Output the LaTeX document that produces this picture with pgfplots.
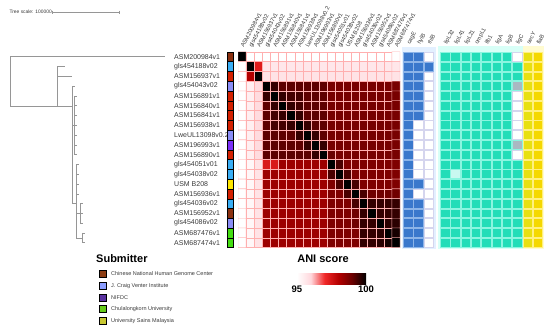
\documentclass[border=0pt]{standalone}
\usepackage{pgfplots}
\usepackage{pgfplotstable}
\pgfplotsset{compat=1.18}
\usepackage{fontspec}
\setmainfont{Liberation Sans}
\usetikzlibrary{calc}

\definecolor{cBrown}{RGB}{139,48,16}
\definecolor{cRed}{RGB}{212,32,0}
\definecolor{cSky}{RGB}{58,174,245}
\definecolor{cPeri}{RGB}{138,140,245}
\definecolor{cViolet}{RGB}{123,47,247}
\definecolor{cYel}{RGB}{255,230,0}
\definecolor{cGreen}{RGB}{68,221,17}
\definecolor{lgBrown}{RGB}{140,60,18}
\definecolor{lgPeri}{RGB}{140,158,255}
\definecolor{lgPurple}{RGB}{90,50,160}
\definecolor{lgGreen}{RGB}{102,204,26}
\definecolor{lgOlive}{RGB}{200,200,50}
\definecolor{gBlue}{RGB}{58,120,204}
\definecolor{gBlueL}{RGB}{140,180,232}
\definecolor{gTeal}{RGB}{34,221,184}
\definecolor{gTealL}{RGB}{138,245,224}
\definecolor{gTealP}{RGB}{200,248,240}
\definecolor{gGray}{RGB}{169,185,194}
\definecolor{gYel1}{RGB}{232,224,16}
\definecolor{gYel2}{RGB}{245,216,0}
\definecolor{gYelL}{RGB}{255,240,128}
\definecolor{gAbs}{RGB}{213,213,238}
\definecolor{bgBlue}{RGB}{227,240,255}
\definecolor{bgTeal}{RGB}{216,255,247}
\definecolor{bgYel}{RGB}{255,251,208}
\definecolor{gridPink}{RGB}{255,175,175}
\definecolor{labgray}{RGB}{58,58,58}
\definecolor{treegray}{RGB}{150,150,150}

\pgfplotstableread{
y
56.7
66.5
76.3
86.1
95.9
105.7
115.4
125.2
135.0
144.8
154.6
164.4
174.2
184.0
193.8
203.6
213.3
223.1
232.9
242.7
}\rowsTable

\pgfplotsset{
  cell/.style 2 args={only marks, mark=square*, mark size=4.45pt,
    mark options={xscale=1.06, line width=0.7pt, fill=#1, draw=#2}},
  strip/.style={only marks, mark=square*, mark size=4.9pt,
    mark options={xscale=0.66, draw=none, fill=#1}},
  lgsq/.style={only marks, mark=square*, mark size=3.6pt,
    mark options={draw=none, fill=#1}},
}

\begin{document}
\begin{tikzpicture}
\useasboundingbox (0,0) rectangle (550pt,-330pt);

\begin{axis}[at={(275pt,-165pt)}, anchor=center, scale only axis,
  width=550pt, height=330pt, xmin=0, xmax=550, ymin=0, ymax=330,
  y dir=reverse, hide axis, clip=false]

% group backgrounds
\addplot[fill=bgBlue, draw=none] coordinates {(401.5,47) (435.5,47) (435.5,249) (401.5,249)} -- cycle;
\addplot[fill=bgTeal, draw=none] coordinates {(438,46) (523,46) (523,249) (438,249)} -- cycle;
\addplot[fill=bgYel, draw=none] coordinates {(522.5,46) (544,46) (544,249) (522.5,249)} -- cycle;

% tree
\addplot[color=treegray, line width=0.45pt, unbounded coords=jump] coordinates {
(10,56.7) (10,106) (nan,nan)
(10,56.7) (165,56.7) (nan,nan)
(10,106) (72,106) (nan,nan)
(57,66.5) (57,106) (nan,nan)
(57,66.5) (65,66.5) (nan,nan)
(57,76.3) (72,76.3) (nan,nan)
(72,86.1) (72,203.6) (nan,nan)
(72,86.1) (75,86.1) (nan,nan)
(72,125.2) (74,125.2) (nan,nan)
(74,95.9) (74,154.6) (nan,nan)
(74,95.9) (77,95.9) (nan,nan)
(74,105.7) (77,105.7) (nan,nan)
(74,115.4) (77,115.4) (nan,nan)
(74,125.2) (77,125.2) (nan,nan)
(74,135.0) (77,135.0) (nan,nan)
(74,144.8) (77,144.8) (nan,nan)
(74,154.6) (77,154.6) (nan,nan)
(72,203.6) (76,203.6) (nan,nan)
(76,164.4) (76,237.8) (nan,nan)
(76,164.4) (79,164.4) (nan,nan)
(76,174.2) (79,174.2) (nan,nan)
(76,184.0) (79,184.0) (nan,nan)
(76,193.8) (79,193.8) (nan,nan)
(76,213.3) (80,213.3) (nan,nan)
(80,203.6) (80,223.1) (nan,nan)
(80,203.6) (83,203.6) (nan,nan)
(80,213.3) (83,213.3) (nan,nan)
(80,223.1) (83,223.1) (nan,nan)
(76,237.8) (82,237.8) (nan,nan)
(82,232.9) (82,242.7) (nan,nan)
(82,232.9) (85,232.9) (nan,nan)
(82,242.7) (85,242.7)
};

% tree scale
\addplot[color=treegray, line width=0.45pt, unbounded coords=jump] coordinates {
(52,12) (119,12) (nan,nan) (52,10.5) (52,13.5) (nan,nan) (119,10.5) (119,13.5)};
\node[anchor=west, font=\fontsize{4.9}{5}\selectfont, text=labgray] at (axis cs:6,12) {Tree scale: 100000};

% row labels
\begin{scope}[every node/.style={anchor=west, font=\fontsize{7}{8}\selectfont, text=labgray, inner sep=0pt}]
\node at (axis cs:174,56.7) {ASM200984v1};
\node at (axis cs:174,66.5) {gls454188v02};
\node at (axis cs:174,76.3) {ASM156937v1};
\node at (axis cs:174,86.1) {gls454043v02};
\node at (axis cs:174,95.9) {ASM156891v1};
\node at (axis cs:174,105.7) {ASM156840v1};
\node at (axis cs:174,115.4) {ASM156841v1};
\node at (axis cs:174,125.2) {ASM156938v1};
\node at (axis cs:174,135.0) {LweUL13098v0.2};
\node at (axis cs:174,144.8) {ASM196993v1};
\node at (axis cs:174,154.6) {ASM156890v1};
\node at (axis cs:174,164.4) {gls454051v01};
\node at (axis cs:174,174.2) {gls454038v02};
\node at (axis cs:174,184.0) {USM B208};
\node at (axis cs:174,193.8) {ASM156936v1};
\node at (axis cs:174,203.6) {gls454036v02};
\node at (axis cs:174,213.3) {ASM156952v1};
\node at (axis cs:174,223.1) {gls454086v02};
\node at (axis cs:174,232.9) {ASM687476v1};
\node at (axis cs:174,242.7) {ASM687474v1};
\end{scope}

% column labels
\begin{scope}[every node/.style={anchor=base west, rotate=62, font=\fontsize{5.8}{6}\selectfont, text=labgray, inner sep=0.5pt}]
\node at (axis cs:243.6,48.5) {ASM200984v1};
\node at (axis cs:251.7,48.5) {gls454188v02};
\node at (axis cs:259.8,48.5) {ASM156937v1};
\node at (axis cs:267.9,48.5) {gls454043v02};
\node at (axis cs:276.0,48.5) {ASM156891v1};
\node at (axis cs:284.1,48.5) {ASM156840v1};
\node at (axis cs:292.2,48.5) {ASM156841v1};
\node at (axis cs:300.3,48.5) {ASM156938v1};
\node at (axis cs:308.4,48.5) {LweUL13098v0.2};
\node at (axis cs:316.5,48.5) {ASM196993v1};
\node at (axis cs:324.6,48.5) {ASM156890v1};
\node at (axis cs:332.7,48.5) {gls454051v01};
\node at (axis cs:340.8,48.5) {gls454038v02};
\node at (axis cs:348.9,48.5) {USM B208};
\node at (axis cs:357.0,48.5) {ASM156936v1};
\node at (axis cs:365.1,48.5) {gls454036v02};
\node at (axis cs:373.2,48.5) {ASM156952v1};
\node at (axis cs:381.3,48.5) {gls454086v02};
\node at (axis cs:389.4,48.5) {ASM687476v1};
\node at (axis cs:397.5,48.5) {ASM687474v1};
% gene labels
\node at (axis cs:409.7,45.5) {cagE};
\node at (axis cs:420.0,45.5) {hylB};
\node at (axis cs:430.3,45.5) {rhlB};
\node at (axis cs:446.7,45.5) {lipL32};
\node at (axis cs:457.0,45.5) {lipL41};
\node at (axis cs:467.3,45.5) {lipL21};
\node at (axis cs:477.6,45.5) {ompL1};
\node at (axis cs:487.9,45.5) {lfb1};
\node at (axis cs:498.2,45.5) {ligA};
\node at (axis cs:508.5,45.5) {ligB};
\node at (axis cs:518.8,45.5) {ligC};
\node at (axis cs:529.5,45.5) {secY};
\node at (axis cs:539.5,45.5) {flaB};
\end{scope}

% submitter strip
\addplot[strip=cBrown] coordinates {(230,56.7) (230,213.3)};
\addplot[strip=cSky] coordinates {(230,66.5) (230,164.4) (230,174.2) (230,203.6)};
\addplot[strip=cRed] coordinates {(230,76.3) (230,95.9) (230,105.7) (230,115.4) (230,125.2) (230,154.6) (230,193.8)};
\addplot[strip=cPeri] coordinates {(230,86.1) (230,135.0) (230,223.1)};
\addplot[strip=cViolet] coordinates {(230,144.8)};
\addplot[strip=cYel] coordinates {(230,184.0)};
\addplot[strip=cGreen] coordinates {(230,232.9) (230,242.7)};

% gene matrix: blue group
\addplot[cell={gBlue}{gBlueL}] table[x expr=408.2, y=y] {\rowsTable};
\addplot[cell={gBlue}{gBlueL}] coordinates {(418.5,56.7) (418.5,66.5) (418.5,76.3) (418.5,86.1) (418.5,95.9) (418.5,105.7) (418.5,115.4) (418.5,184.0) (418.5,203.6) (418.5,213.3) (418.5,223.1) (418.5,232.9) (418.5,242.7) (428.8,66.5)};
\addplot[cell={white}{gAbs}] coordinates {(418.5,125.2) (418.5,135.0) (418.5,144.8) (418.5,154.6) (418.5,164.4) (418.5,174.2) (418.5,193.8)
(428.8,56.7) (428.8,76.3) (428.8,86.1) (428.8,95.9) (428.8,105.7) (428.8,115.4) (428.8,125.2) (428.8,135.0) (428.8,144.8) (428.8,154.6) (428.8,164.4) (428.8,174.2) (428.8,184.0) (428.8,193.8) (428.8,203.6) (428.8,213.3) (428.8,223.1) (428.8,232.9) (428.8,242.7)};
% teal group
\addplot[cell={gTeal}{gTealL}] table[x expr=445.2, y=y] {\rowsTable};
\addplot[cell={gTeal}{gTealL}] coordinates {(455.5,56.7) (455.5,66.5) (455.5,76.3) (455.5,86.1) (455.5,95.9) (455.5,105.7) (455.5,115.4) (455.5,125.2) (455.5,135.0) (455.5,144.8) (455.5,154.6) (455.5,164.4) (455.5,184.0) (455.5,193.8) (455.5,203.6) (455.5,213.3) (455.5,223.1) (455.5,232.9) (455.5,242.7)};
\addplot[cell={gTealP}{gTealL}] coordinates {(455.5,174.2)};
\addplot[cell={gTeal}{gTealL}] table[x expr=465.8, y=y] {\rowsTable};
\addplot[cell={gTeal}{gTealL}] table[x expr=476.1, y=y] {\rowsTable};
\addplot[cell={gTeal}{gTealL}] table[x expr=486.4, y=y] {\rowsTable};
\addplot[cell={gTeal}{gTealL}] table[x expr=496.7, y=y] {\rowsTable};
\addplot[cell={gTeal}{gTealL}] table[x expr=507.0, y=y] {\rowsTable};
\addplot[cell={gTeal}{gTealL}] coordinates {(517.3,66.5) (517.3,76.3) (517.3,164.4) (517.3,174.2) (517.3,184.0) (517.3,193.8) (517.3,203.6) (517.3,213.3) (517.3,223.1) (517.3,232.9) (517.3,242.7)};
\addplot[cell={gGray}{gTealL}] coordinates {(517.3,86.1) (517.3,144.8)};
\addplot[cell={white}{gAbs}] coordinates {(517.3,56.7) (517.3,95.9) (517.3,105.7) (517.3,115.4) (517.3,125.2) (517.3,135.0) (517.3,154.6)};
% yellow group
\addplot[cell={gYel1}{gYelL}] table[x expr=528.0, y=y] {\rowsTable};
\addplot[cell={gYel2}{gYelL}] table[x expr=538.0, y=y] {\rowsTable};

% submitter legend
\node[anchor=west, font=\bfseries\fontsize{11}{12}\selectfont, inner sep=0pt] at (axis cs:96,258.5) {Submitter};
\addplot[lgsq=lgBrown] coordinates {(103,274)};
\addplot[lgsq=lgPeri] coordinates {(103,285.7)};
\addplot[lgsq=lgPurple] coordinates {(103,297.3)};
\addplot[lgsq=lgGreen] coordinates {(103,309)};
\addplot[lgsq=lgOlive] coordinates {(103,321)};
\begin{scope}[every node/.style={anchor=west, font=\fontsize{5.5}{6}\selectfont, text=labgray, inner sep=0pt}]
\node at (axis cs:111,274) {Chinese National Human Genome Center};
\node at (axis cs:111,285.7) {J. Craig Venter Institute};
\node at (axis cs:111,297.3) {NIFDC};
\node at (axis cs:111,309) {Chulalongkorn University};
\node at (axis cs:111,321) {University Sains Malaysia};
\end{scope}
\node[font=\bfseries\fontsize{11}{12}\selectfont, inner sep=0pt] at (axis cs:323,258.5) {ANI score};
\end{axis}

% heatmap
\begin{axis}[at={(319pt,-149.7pt)}, anchor=center, scale only axis,
  width=162pt, height=195.8pt, xmin=0.5, xmax=20.5, ymin=0.5, ymax=20.5,
  y dir=reverse, hide axis,
  colormap={ani}{rgb255(0cm)=(255,255,255); rgb255(1cm)=(255,215,220); rgb255(2cm)=(240,40,40); rgb255(3cm)=(180,0,0); rgb255(4cm)=(105,0,0); rgb255(5cm)=(0,0,0)},
  point meta min=95, point meta max=100,
  colorbar horizontal,
  colorbar style={at={($(parent axis.center)+(12.5pt,-120.8pt)$)}, anchor=center,
    scale only axis, width=69pt, height=11pt,
    xtick={95,100}, xticklabels={\textbf{95},\textbf{100}},
    xticklabel style={font=\fontsize{9.5}{10}\selectfont, inner sep=1pt},
    major tick length=0pt, axis line style={draw=none}}]
\addplot[matrix plot*, mesh/cols=20, point meta=explicit, draw=gridPink, line width=0.35pt] coordinates {
(1,1)[100] (2,1)[95] (3,1)[95] (4,1)[95] (5,1)[95] (6,1)[95] (7,1)[95] (8,1)[95] (9,1)[95] (10,1)[95] (11,1)[95] (12,1)[95] (13,1)[95] (14,1)[95] (15,1)[95] (16,1)[95] (17,1)[95] (18,1)[95] (19,1)[95] (20,1)[95]
(1,2)[95] (2,2)[100] (3,2)[97.3] (4,2)[95.6] (5,2)[95.6] (6,2)[95.6] (7,2)[95.6] (8,2)[95.6] (9,2)[95.6] (10,2)[95.6] (11,2)[95.6] (12,2)[95.6] (13,2)[95.6] (14,2)[95.6] (15,2)[95.6] (16,2)[95.6] (17,2)[95.6] (18,2)[95.6] (19,2)[95.6] (20,2)[95.6]
(1,3)[95] (2,3)[98] (3,3)[100] (4,3)[95.7] (5,3)[95.7] (6,3)[95.7] (7,3)[95.7] (8,3)[95.7] (9,3)[95.7] (10,3)[95.7] (11,3)[95.7] (12,3)[95.7] (13,3)[95.7] (14,3)[95.7] (15,3)[95.7] (16,3)[95.7] (17,3)[95.7] (18,3)[95.7] (19,3)[95.7] (20,3)[95.7]
(1,4)[95] (2,4)[95.4] (3,4)[95.9] (4,4)[100] (5,4)[99.5] (6,4)[99.1] (7,4)[99.1] (8,4)[99.1] (9,4)[99.1] (10,4)[99.1] (11,4)[99.1] (12,4)[98.8] (13,4)[98.8] (14,4)[98.8] (15,4)[98.8] (16,4)[98.8] (17,4)[98.8] (18,4)[98.8] (19,4)[98.8] (20,4)[98.8]
(1,5)[95] (2,5)[95.4] (3,5)[95.9] (4,5)[99.5] (5,5)[100] (6,5)[99.5] (7,5)[99.35] (8,5)[99.35] (9,5)[99.1] (10,5)[99.1] (11,5)[99.1] (12,5)[98.8] (13,5)[98.8] (14,5)[98.8] (15,5)[98.8] (16,5)[98.8] (17,5)[98.8] (18,5)[98.8] (19,5)[98.8] (20,5)[98.8]
(1,6)[95] (2,6)[95.4] (3,6)[95.9] (4,6)[99.1] (5,6)[99.5] (6,6)[100] (7,6)[99.5] (8,6)[99.35] (9,6)[99.1] (10,6)[99.1] (11,6)[99.1] (12,6)[98.8] (13,6)[98.8] (14,6)[98.8] (15,6)[98.8] (16,6)[98.8] (17,6)[98.8] (18,6)[98.8] (19,6)[98.8] (20,6)[98.8]
(1,7)[95] (2,7)[95.4] (3,7)[95.9] (4,7)[99.1] (5,7)[99.35] (6,7)[99.5] (7,7)[100] (8,7)[99.5] (9,7)[99.1] (10,7)[99.1] (11,7)[99.1] (12,7)[98.8] (13,7)[98.8] (14,7)[98.8] (15,7)[98.8] (16,7)[98.8] (17,7)[98.8] (18,7)[98.8] (19,7)[98.8] (20,7)[98.8]
(1,8)[95] (2,8)[95.4] (3,8)[95.9] (4,8)[99.1] (5,8)[99.35] (6,8)[99.35] (7,8)[99.5] (8,8)[100] (9,8)[99.5] (10,8)[99.1] (11,8)[99.1] (12,8)[98.8] (13,8)[98.8] (14,8)[98.8] (15,8)[98.8] (16,8)[98.8] (17,8)[98.8] (18,8)[98.8] (19,8)[98.8] (20,8)[98.8]
(1,9)[95] (2,9)[95.4] (3,9)[95.9] (4,9)[99.1] (5,9)[99.1] (6,9)[99.1] (7,9)[99.1] (8,9)[99.5] (9,9)[100] (10,9)[99.5] (11,9)[99.1] (12,9)[98.8] (13,9)[98.8] (14,9)[98.8] (15,9)[98.8] (16,9)[98.8] (17,9)[98.8] (18,9)[98.8] (19,9)[98.8] (20,9)[98.8]
(1,10)[95] (2,10)[95.4] (3,10)[95.9] (4,10)[99.1] (5,10)[99.1] (6,10)[99.1] (7,10)[99.1] (8,10)[99.1] (9,10)[99.5] (10,10)[100] (11,10)[99.5] (12,10)[98.8] (13,10)[98.8] (14,10)[98.8] (15,10)[98.8] (16,10)[98.8] (17,10)[98.8] (18,10)[98.8] (19,10)[98.8] (20,10)[98.8]
(1,11)[95] (2,11)[95.4] (3,11)[95.9] (4,11)[99.1] (5,11)[99.1] (6,11)[99.1] (7,11)[99.1] (8,11)[99.1] (9,11)[99.1] (10,11)[99.5] (11,11)[100] (12,11)[99.0] (13,11)[98.8] (14,11)[98.8] (15,11)[98.8] (16,11)[98.8] (17,11)[98.8] (18,11)[98.8] (19,11)[98.8] (20,11)[98.8]
(1,12)[95] (2,12)[95.2] (3,12)[95.7] (4,12)[97.4] (5,12)[97.4] (6,12)[98.3] (7,12)[98.3] (8,12)[98.3] (9,12)[98.3] (10,12)[98.3] (11,12)[98.3] (12,12)[100] (13,12)[99.3] (14,12)[98.7] (15,12)[98.7] (16,12)[98.7] (17,12)[98.7] (18,12)[98.7] (19,12)[98.7] (20,12)[98.7]
(1,13)[95] (2,13)[95.2] (3,13)[95.7] (4,13)[98.3] (5,13)[98.3] (6,13)[98.3] (7,13)[98.3] (8,13)[98.3] (9,13)[98.3] (10,13)[98.3] (11,13)[98.3] (12,13)[99.3] (13,13)[100] (14,13)[99.3] (15,13)[98.7] (16,13)[98.7] (17,13)[98.7] (18,13)[98.7] (19,13)[98.7] (20,13)[98.7]
(1,14)[95] (2,14)[95.2] (3,14)[95.7] (4,14)[98.3] (5,14)[98.3] (6,14)[98.3] (7,14)[98.3] (8,14)[98.3] (9,14)[98.3] (10,14)[98.3] (11,14)[98.3] (12,14)[98.7] (13,14)[99.3] (14,14)[100] (15,14)[99.3] (16,14)[98.7] (17,14)[98.7] (18,14)[98.7] (19,14)[98.7] (20,14)[98.7]
(1,15)[95] (2,15)[95.2] (3,15)[95.7] (4,15)[98.3] (5,15)[98.3] (6,15)[98.3] (7,15)[98.3] (8,15)[98.3] (9,15)[98.3] (10,15)[98.3] (11,15)[98.3] (12,15)[98.7] (13,15)[98.7] (14,15)[99.3] (15,15)[100] (16,15)[99.3] (17,15)[98.9] (18,15)[98.9] (19,15)[98.9] (20,15)[98.9]
(1,16)[95] (2,16)[95.2] (3,16)[95.7] (4,16)[98.3] (5,16)[98.3] (6,16)[98.3] (7,16)[98.3] (8,16)[98.3] (9,16)[98.3] (10,16)[98.3] (11,16)[98.3] (12,16)[98.7] (13,16)[98.7] (14,16)[98.7] (15,16)[99.3] (16,16)[100] (17,16)[99.5] (18,16)[99.5] (19,16)[99.5] (20,16)[99.5]
(1,17)[95] (2,17)[95.2] (3,17)[95.7] (4,17)[98.3] (5,17)[98.3] (6,17)[98.3] (7,17)[98.3] (8,17)[98.3] (9,17)[98.3] (10,17)[98.3] (11,17)[98.3] (12,17)[98.7] (13,17)[98.7] (14,17)[98.7] (15,17)[98.9] (16,17)[99.5] (17,17)[100] (18,17)[99.5] (19,17)[99.5] (20,17)[99.5]
(1,18)[95] (2,18)[95.2] (3,18)[95.7] (4,18)[98.3] (5,18)[98.3] (6,18)[98.3] (7,18)[98.3] (8,18)[98.3] (9,18)[98.3] (10,18)[98.3] (11,18)[98.3] (12,18)[98.7] (13,18)[98.7] (14,18)[98.7] (15,18)[98.9] (16,18)[99.5] (17,18)[99.5] (18,18)[100] (19,18)[99.6] (20,18)[99.6]
(1,19)[95] (2,19)[95.2] (3,19)[95.7] (4,19)[98.3] (5,19)[98.3] (6,19)[98.3] (7,19)[98.3] (8,19)[98.3] (9,19)[98.3] (10,19)[98.3] (11,19)[98.3] (12,19)[98.7] (13,19)[98.7] (14,19)[98.7] (15,19)[98.7] (16,19)[99.5] (17,19)[99.5] (18,19)[99.6] (19,19)[100] (20,19)[99.8]
(1,20)[95] (2,20)[95.2] (3,20)[95.7] (4,20)[98.3] (5,20)[98.3] (6,20)[98.3] (7,20)[98.3] (8,20)[98.3] (9,20)[98.3] (10,20)[98.3] (11,20)[98.3] (12,20)[98.7] (13,20)[98.7] (14,20)[98.7] (15,20)[98.7] (16,20)[99.5] (17,20)[99.5] (18,20)[99.6] (19,20)[99.8] (20,20)[100]
};
\end{axis}
\end{tikzpicture}
\end{document}
